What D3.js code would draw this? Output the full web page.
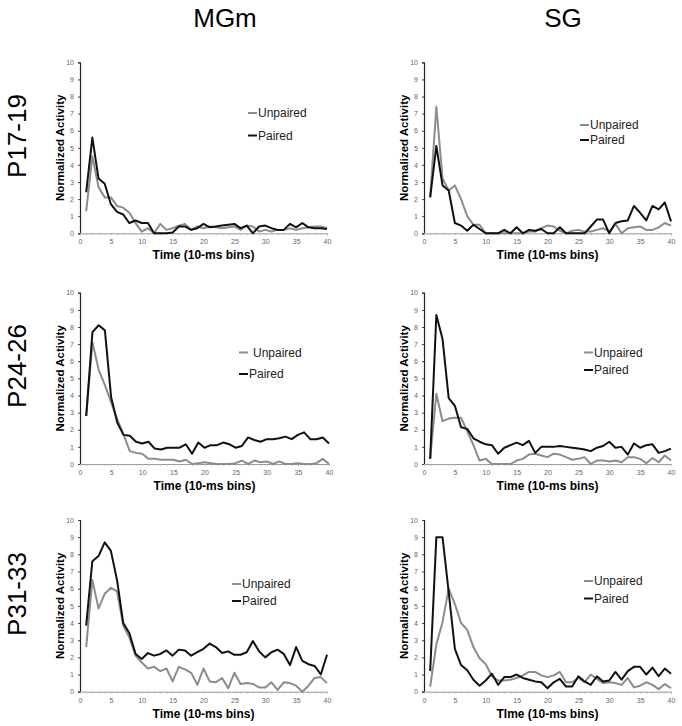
<!DOCTYPE html>
<html><head><meta charset="utf-8">
<script src="https://cdn.jsdelivr.net/npm/d3@7"></script>
<style>body{margin:0;background:#fff}svg{display:block}text{font-family:"Liberation Sans",Arial,sans-serif}</style>
</head><body>
<script>
const bins = d3.range(1, 41);
const columnTitles = ["MGm", "SG"];
const rowTitles = ["P17-19", "P24-26", "P31-33"];
const xTicks = [0,5,10,15,20,25,30,35,40];
const yTicks = [0,1,2,3,4,5,6,7,8,9,10];
const seriesNames = ["Unpaired", "Paired"];

const mgm1719Unpaired = [1.3,4.5,2.7,2.1,2.1,1.6,1.5,1.2,0.6,0.1,0.3,0,0.55,0.2,0.3,0.45,0.55,0.2,0.4,0.3,0.4,0.35,0.3,0.35,0.4,0.2,0.45,0.4,0.1,0.2,0.1,0.2,0.2,0.3,0.2,0.3,0.35,0.4,0.4,0.3];
const mgm1719Paired = [2.4,5.6,3.2,2.9,1.7,1.25,1.1,0.6,0.75,0.6,0.6,0,0,0,0.05,0.4,0.4,0.2,0.3,0.55,0.35,0.4,0.45,0.5,0.55,0.3,0.45,0,0.4,0.45,0.3,0.2,0.2,0.55,0.35,0.6,0.35,0.3,0.3,0.25];
const sg1719Unpaired = [2.1,7.4,3.2,2.5,2.8,2.0,1.0,0.5,0.5,0,0,0,0,0,0,0,0.1,0.1,0.3,0.45,0.4,0.15,0,0.15,0.2,0.1,0.1,0.2,0.3,0.1,0.55,0,0.3,0.35,0.4,0.2,0.2,0.35,0.6,0.45];
const sg1719Paired = [2.1,5.1,2.8,2.5,0.6,0.45,0.15,0.5,0.25,0,0,0,0.2,0,0.35,0,0.2,0.15,0.25,0,0,0.35,0,0,0,0,0.4,0.8,0.8,0,0.6,0.7,0.75,1.6,1.2,0.75,1.6,1.4,1.8,0.7];
const mgm2426Unpaired = [2.8,7.1,5.5,4.6,3.6,2.6,1.7,0.75,0.65,0.6,0.3,0.3,0.25,0.25,0.25,0.15,0.25,0,0.05,0.1,0.05,0,0,0,0.05,0.2,0,0.2,0.1,0.15,0,0.15,0,0,0.05,0,0,0.05,0.3,0];
const mgm2426Paired = [2.8,7.7,8.1,7.8,3.9,2.4,1.7,1.65,1.3,1.2,1.3,0.9,0.85,0.95,0.95,0.95,1.15,0.6,1.25,0.95,1.1,1.1,1.25,1.15,0.95,1.05,1.55,1.4,1.3,1.45,1.45,1.5,1.6,1.45,1.7,1.85,1.45,1.45,1.55,1.2];
const sg2426Unpaired = [0.3,4.1,2.5,2.65,2.7,2.7,1.9,1.1,0.2,0.3,0,0,0,0,0.2,0.3,0.55,0.6,0.5,0.4,0.6,0.55,0.4,0.25,0.3,0.4,0,0.2,0.2,0.15,0.2,0.1,0.4,0.4,0.3,0.05,0.35,0.1,0.5,0.2];
const sg2426Paired = [0.3,8.7,7.3,3.85,3.4,2.15,2.05,1.5,1.3,1.15,1.1,0.6,0.95,1.1,1.25,1.1,1.35,0.65,1.0,1.0,1.0,1.05,1.0,0.95,0.9,0.85,0.75,0.95,1.05,1.3,0.95,1.0,0.55,1.2,0.95,1.1,1.15,0.65,0.75,0.9];
const mgm3133Unpaired = [2.6,6.5,4.85,5.7,6.05,5.85,3.85,3.15,2.1,1.7,1.35,1.45,1.2,1.35,0.6,1.45,1.3,1.1,0.4,1.35,0.6,0.55,0.8,0.2,1.1,0.45,0.5,0.45,0.25,0.25,0.55,0.1,0.55,0.5,0.35,0,0.35,0.8,0.85,0.5];
const mgm3133Paired = [3.85,7.6,7.9,8.7,8.2,6.5,4.0,3.4,2.2,1.9,2.25,2.1,2.2,2.4,2.1,2.45,2.4,2.1,2.3,2.5,2.8,2.6,2.25,2.35,2.15,2.15,2.3,2.95,2.35,2.0,2.3,2.45,2.2,1.55,2.6,1.8,1.6,1.5,1.0,2.15];
const sg3133Unpaired = [0.3,2.75,4.05,6.0,5.1,4.0,3.6,2.6,1.95,1.6,0.9,0.65,0.65,0.7,0.8,0.95,1.15,1.15,0.95,0.85,0.95,1.15,0.55,0.55,0.8,0.55,1.0,0.75,0.5,0.55,0.5,0.4,0.8,0.25,0.35,0.55,0.4,0.15,0.45,0.2];
const sg3133Paired = [1.2,9.0,9.0,5.8,2.5,1.55,1.25,0.7,0.35,0.65,1.05,0.4,0.85,0.85,1.0,0.8,0.7,0.6,0.55,0.2,0.55,0.75,0.3,0.3,0.9,0.6,0.4,0.9,0.6,0.65,1.15,0.7,1.2,1.45,1.45,1.0,1.4,0.9,1.35,1.05];

const panels = [
  {u: mgm1719Unpaired, p: mgm1719Paired, x0:80, x1:327, yb:233.3, yt:62.3, xlab:"Time (10-ms bins)", leg:{lx:248, ly1:113, ly2:135.5, gap:1}},
  {u: sg1719Unpaired, p: sg1719Paired, x0:424, x1:671, yb:233.3, yt:62.3, xlab:"Time (10-ms bins)", leg:{lx:580, ly1:125, ly2:140, gap:1}},
  {u: mgm2426Unpaired, p: mgm2426Paired, x0:80, x1:329, yb:464, yt:292.7, xlab:"Time (10-ms bins)", leg:{lx:239, ly1:352.5, ly2:374, gap:5}},
  {u: sg2426Unpaired, p: sg2426Paired, x0:424, x1:671, yb:464, yt:292.7, xlab:"Time (10-ms bins)", leg:{lx:584, ly1:352.5, ly2:370, gap:1}},
  {u: mgm3133Unpaired, p: mgm3133Paired, x0:80, x1:327, yb:691.7, yt:520, xlab:"Time (10-ms bins)", leg:{lx:232, ly1:584, ly2:601, gap:1}},
  {u: sg3133Unpaired, p: sg3133Paired, x0:424, x1:671, yb:691.7, yt:520, xlab:"TIme (10-ms bins)", leg:{lx:584, ly1:581, ly2:598.5, gap:1}}
];
const colors = {Unpaired:"#8c8c8c", Paired:"#111"};

const svg = d3.select("body").append("svg").attr("width",682).attr("height",726);

// column titles
svg.append("text").attr("x",225).attr("y",27).attr("text-anchor","middle").attr("font-size",26).text(columnTitles[0]);
svg.append("text").attr("x",563).attr("y",27).attr("text-anchor","middle").attr("font-size",26).text(columnTitles[1]);
// row titles
const rowCenters = [136, 366, 594];
rowTitles.forEach((t,i)=>{
  svg.append("text").attr("transform",`translate(26,${rowCenters[i]}) rotate(-90)`)
    .attr("text-anchor","middle").attr("font-size",26).text(t);
});

panels.forEach(P=>{
  const x = d3.scaleLinear().domain([0,40]).range([P.x0,P.x1]);
  const y = d3.scaleLinear().domain([0,10]).range([P.yb,P.yt]);
  const g = svg.append("g");
  // y axis
  const ya = g.append("g").attr("transform",`translate(${P.x0},0)`)
    .call(d3.axisLeft(y).tickValues(yTicks).tickSize(2).tickPadding(4));
  ya.select(".domain").attr("stroke","#222").attr("stroke-width",1.2);
  ya.selectAll(".tick line").attr("stroke","#444");
  ya.selectAll("text").attr("font-size",7).attr("fill","#666").attr("font-family","Liberation Sans, Arial");
  // x axis
  const xa = g.append("g").attr("transform",`translate(0,${P.yb})`)
    .call(d3.axisBottom(x).tickValues(bins.concat([0])).tickSize(2).tickPadding(4).tickFormat(d=> xTicks.includes(d)? d : ""));
  xa.select(".domain").attr("stroke","#999").attr("stroke-width",1);
  xa.selectAll(".tick line").attr("stroke","#bbb");
  xa.selectAll("text").attr("font-size",7).attr("fill","#666").attr("font-family","Liberation Sans, Arial");
  // labels
  g.append("text").attr("transform",`translate(${P.x0-16},${(P.yb+P.yt)/2}) rotate(-90)`)
    .attr("text-anchor","middle").attr("font-size",11.5).attr("font-weight","bold").text("Normalized Activity");
  g.append("text").attr("x",(P.x0+P.x1)/2).attr("y",P.yb+26).attr("text-anchor","middle")
    .attr("font-size",12).attr("font-weight","bold").text(P.xlab);
  // lines
  const line = d3.line().x((d,i)=>x(bins[i])).y(d=>y(d));
  g.append("path").datum(P.u).attr("d",line).attr("fill","none").attr("stroke",colors.Unpaired).attr("stroke-width",2).attr("stroke-linejoin","round");
  g.append("path").datum(P.p).attr("d",line).attr("fill","none").attr("stroke",colors.Paired).attr("stroke-width",2).attr("stroke-linejoin","round");
  // legend
  const ly = [P.leg.ly1, P.leg.ly2];
  seriesNames.forEach((s,i)=>{
    g.append("line").attr("x1",P.leg.lx).attr("x2",P.leg.lx+9).attr("y1",ly[i]).attr("y2",ly[i])
      .attr("stroke",colors[s]).attr("stroke-width",2);
    g.append("text").attr("x",P.leg.lx+9+(i===0?P.leg.gap:1)).attr("y",ly[i]+4.3).attr("font-size",12).attr("fill","#222").text(s);
  });
});
</script>
</body></html>
